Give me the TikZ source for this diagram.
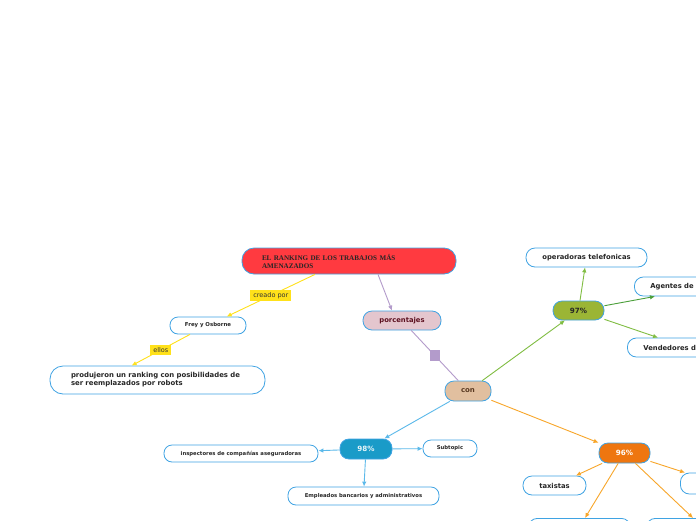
\documentclass[tikz,border=0pt]{standalone}
\usepackage{fontspec}
\newfontfamily\mapfont{DejaVu Sans}
\newfontfamily\titlefont{Liberation Serif}
\definecolor{nodeblue}{HTML}{3FA3E3}
\definecolor{titlered}{HTML}{FF3A40}
\definecolor{pinkfill}{HTML}{E4C6CE}
\definecolor{maroontext}{HTML}{5C1020}
\definecolor{tanfill}{HTML}{E1BF9F}
\definecolor{browntext}{HTML}{5A3A22}
\definecolor{olivefill}{HTML}{9BB535}
\definecolor{tealfill}{HTML}{1A9BC8}
\definecolor{orangefill}{HTML}{EE7610}
\definecolor{yellowline}{HTML}{FFE11A}
\definecolor{purpleline}{HTML}{B39BCB}
\definecolor{greenline}{HTML}{80BD42}
\definecolor{darkgreen}{HTML}{4B9F3A}
\definecolor{blueline}{HTML}{5BB9EA}
\definecolor{orangeline}{HTML}{F8A62A}
\usetikzlibrary{
    arrows.meta,
    positioning,
    calc
}
\tikzstyle{topic} = [
    rectangle,
    rounded corners=9pt,
    draw=nodeblue,
    line width=0.8pt,
    fill=white,
    minimum height=19pt,
    inner sep=2pt,
    text=black!85,
    font=\mapfont\bfseries\fontsize{6.8}{8}\selectfont
]
\tikzstyle{leaf} = [
    topic,
    rounded corners=8pt,
    minimum height=17pt,
    font=\mapfont\bfseries\fontsize{5.3}{6}\selectfont
]
\tikzstyle{tag} = [
    fill=yellowline,
    inner xsep=3pt,
    inner ysep=2pt,
    text=black!80,
    font=\mapfont\fontsize{6.5}{7}\selectfont
]
\tikzstyle{marker} = [
    rectangle,
    fill=purpleline,
    minimum width=10pt,
    minimum height=11pt,
    inner sep=0pt
]
\tikzstyle{arrow} = [
    -{Latex[length=5pt,width=4.5pt]},
    line width=0.9pt
]

\begin{document}
\begin{tikzpicture}[x=1pt, y=-1pt]
    \useasboundingbox (0,0) rectangle (696,520);
    \fill[white] (0,0) rectangle (696,520);
    \clip (0,0) rectangle (696,520);

    % Central topic
    \node[topic, fill=titlered, rounded corners=12pt, minimum height=26pt,
          inner xsep=20pt, text width=174pt, align=left,
          font=\titlefont\bfseries\fontsize{7.1}{8}\selectfont]
          (title) at (349,261) {EL RANKING DE LOS TRABAJOS MÁS\\AMENAZADOS};

    % Left branch
    \node[leaf, minimum width=76pt, font=\mapfont\bfseries\fontsize{5.4}{6}\selectfont]
          (frey) at (208,325.5) {Frey y Osborne};
    \node[topic, rounded corners=13pt, minimum height=28pt, inner xsep=21pt,
          text width=173pt, align=left, font=\mapfont\bfseries\fontsize{6.9}{8}\selectfont]
          (prod) at (157.5,380) {produjeron un ranking con posibilidades de\\ser reemplazados por robots};

    % Main chain
    \node[topic, fill=pinkfill, text=maroontext, minimum width=78pt]
          (porc) at (402,320.5) {porcentajes};
    \node[topic, fill=tanfill, text=browntext, minimum width=46pt, minimum height=20pt,
          font=\mapfont\bfseries\fontsize{7}{8}\selectfont]
          (con) at (468,391) {con};

    % 97%
    \node[topic, fill=olivefill, text=black!85, minimum width=51pt,
          font=\mapfont\bfseries\fontsize{7.2}{8}\selectfont]
          (pct97) at (578.5,310.5) {97\%};
    \node[topic, minimum width=121pt] (oper) at (586.5,257.5) {operadoras telefonicas};
    \node[topic, anchor=west, inner xsep=16pt, text width=100pt, align=left]
          (agentes) at (634,286.5) {Agentes de};
    \node[topic, anchor=west, inner xsep=16pt, text width=100pt, align=left]
          (vendedores) at (627,347.5) {Vendedores de};

    % 98%
    \node[topic, fill=tealfill, text=white!90!tealfill, minimum width=52pt, minimum height=20pt,
          font=\mapfont\bfseries\fontsize{7.2}{8}\selectfont]
          (pct98) at (366,449) {98\%};
    \node[leaf, minimum width=154pt] (insp) at (241,453.5) {inspectores de compañías aseguradoras};
    \node[leaf, minimum width=54pt] (subt) at (450,448.5) {Subtopic};
    \node[leaf, minimum width=151pt, minimum height=18pt] (empl) at (363.5,496) {Empleados bancarios y administrativos};

    % 96%
    \node[topic, fill=orangefill, text=white, minimum width=51pt, minimum height=20pt,
          font=\mapfont\bfseries\fontsize{7.2}{8}\selectfont]
          (pct96) at (624.5,453) {96\%};
    \node[topic, minimum width=63pt] (taxi) at (554.5,485.5) {taxistas};
    \node[topic, anchor=west, minimum width=60pt, minimum height=21pt] (right96) at (680,483.5) {};
    \node[topic, anchor=north west, minimum width=102pt] (low1) at (528,518) {};
    \node[topic, anchor=north west, minimum width=100pt] (low2) at (646,518) {};

    % Yellow connectors
    \draw[arrow, yellowline] ([xshift=-34pt]title.south) -- (frey)
        node[tag, midway] {creado por};
    \draw[arrow, yellowline] ([xshift=-18pt]frey.south) -- ([xshift=82pt]prod.north west)
        node[tag, midway] {ellos};

    % Purple connectors
    \draw[arrow, purpleline] ([xshift=29pt]title.south) -- ([xshift=-10pt]porc.north);
    \draw[purpleline, line width=0.9pt] (porc) -- (con) node[marker, midway] (sq) {};

    % Green connectors
    \draw[arrow, greenline] (con) -- (pct97);
    \draw[arrow, greenline] (pct97) -- (oper);
    \draw[arrow, darkgreen] (pct97) -- ([xshift=21pt]agentes.south west);
    \draw[arrow, greenline] (pct97) -- ([xshift=31pt]vendedores.north west);

    % Blue connectors
    \draw[arrow, blueline] (con) -- (pct98);
    \draw[arrow, blueline] (pct98) -- (insp);
    \draw[arrow, blueline] (pct98) -- (subt);
    \draw[arrow, blueline] (pct98) -- (empl);

    % Orange connectors
    \draw[arrow, orangeline] (con) -- (pct96);
    \draw[arrow, orangeline] (pct96) -- (taxi);
    \draw[arrow, orangeline] (pct96) -- ([xshift=5pt]right96.north west);
    \draw[arrow, orangeline] (pct96) -- ([xshift=57pt]low1.north west);
    \draw[arrow, orangeline] (pct96) -- ([xshift=47pt]low2.north west);
\end{tikzpicture}
\end{document}
